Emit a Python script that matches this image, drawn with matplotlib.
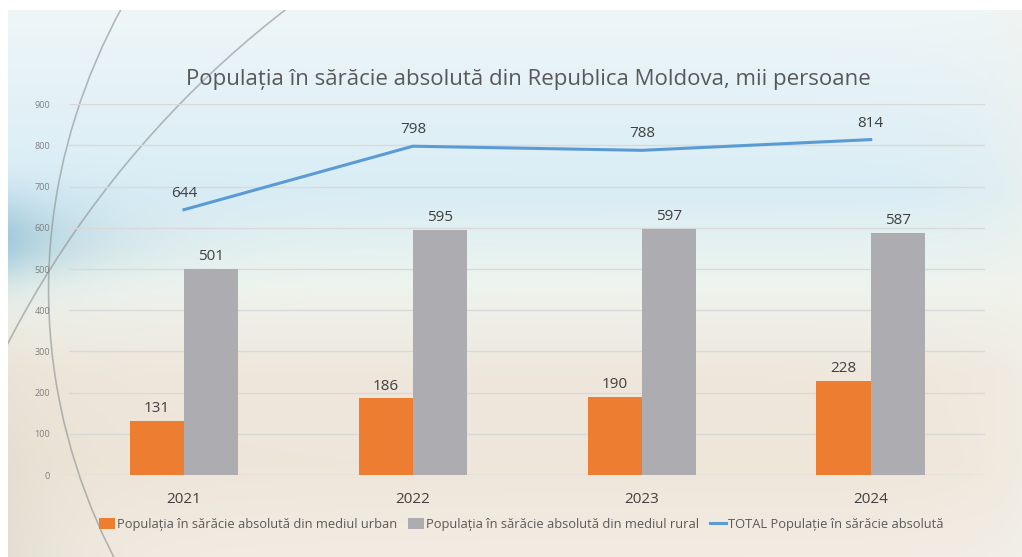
import matplotlib
import matplotlib.pyplot as plt
import numpy as np
from matplotlib.patches import Arc
from matplotlib.colors import LinearSegmentedColormap

matplotlib.use("Agg")

YEARS = ["2021", "2022", "2023", "2024"]
URBAN = [131, 186, 190, 228]
RURAL = [501, 595, 597, 587]
TOTAL = [644, 798, 788, 814]

TITLE = "Populația în sărăcie absolută din Republica Moldova, mii persoane"
LBL_URBAN = "Populația în sărăcie absolută din mediul urban"
LBL_RURAL = "Populația în sărăcie absolută din mediul rural"
LBL_TOTAL = "TOTAL Populație în sărăcie absolută"

ORANGE = "#ED7D31"
GREY = "#ADADB1"
BLUE = "#5B9BD5"
TEXT = "#404040"
TICK = "#7f7f7f"

plt.rcParams["font.family"] = ["Open Sans", "DejaVu Sans"]

fig = plt.figure(figsize=(10.22, 5.57), dpi=100, facecolor="white")

# soft photo-like backdrop
bg = fig.add_axes([8 / 1022, 0, 1 - 8 / 1022, 1 - 10 / 557], zorder=0)
bg.set_axis_off()
sky = LinearSegmentedColormap.from_list(
    "sky", ["#eef6f8", "#e3f1f7", "#d9edf5", "#eef4ee", "#efe7dc", "#efe6da", "#f2ece3"])
h, w = 200, 300
yy = np.linspace(0, 1, h)[:, None]
xx = np.linspace(0, 1, w)[None, :]
vert = sky(np.repeat(yy, w, axis=1))[..., :3]
blue_band = np.exp(-((yy - 0.42) / 0.08) ** 2) * np.exp(-xx / 0.08)
vert = vert * (1 - 0.45 * blue_band[..., None]) + np.array([0.35, 0.62, 0.75]) * 0.45 * blue_band[..., None]
green = np.clip(yy - 0.5, 0, 1) * np.exp(-xx / 0.07)
vert = vert * (1 - 0.5 * green[..., None]) + np.array([0.72, 0.72, 0.62]) * 0.5 * green[..., None]
right = np.exp(-((1 - xx) / 0.05)) * np.ones_like(yy)
vert = vert * (1 - 0.5 * right[..., None]) + np.array([0.95, 0.95, 0.92]) * 0.5 * right[..., None]
bg.imshow(np.clip(vert, 0, 1), aspect="auto", extent=(0, 1, 0, 1))
bg.set_xlim(0, 1)
bg.set_ylim(0, 1)
bg.add_patch(Arc((0.89, 0.488), 1.70, 2.56, theta1=130, theta2=230,
                 color="#8a8f8f", lw=1.2, alpha=0.6))
bg.add_patch(Arc((0.875, -0.444), 1.968, 3.65, theta1=95, theta2=170,
                 color="#8a8f8f", lw=1.2, alpha=0.6))

ax = fig.add_axes([0.068, 0.147, 0.896, 0.666], zorder=1)
ax.patch.set_alpha(0)

x = np.arange(len(YEARS))
bw = 0.237
ax.bar(x - bw / 2, URBAN, bw, color=ORANGE, label=LBL_URBAN, zorder=3)
ax.bar(x + bw / 2, RURAL, bw, color=GREY, label=LBL_RURAL, zorder=3)
ax.plot(x, TOTAL, color=BLUE, lw=2.2, label=LBL_TOTAL, zorder=4)

for xi, v in zip(x, URBAN):
    ax.text(xi - bw / 2, v + 12, str(v), ha="center", va="bottom", fontsize=11, color=TEXT)
for xi, v in zip(x, RURAL):
    ax.text(xi + bw / 2, v + 12, str(v), ha="center", va="bottom", fontsize=11, color=TEXT)
for xi, v in zip(x, TOTAL):
    ax.text(xi, v + 22, str(v), ha="center", va="bottom", fontsize=11, color=TEXT)

ax.set_xlim(-0.5, 3.5)
ax.set_ylim(0, 900)
ax.set_yticks(range(0, 901, 100))
ax.set_xticks(x)
ax.set_xticklabels(YEARS)
ax.tick_params(axis="y", labelsize=6.5, labelcolor=TICK, length=0, pad=14)
ax.tick_params(axis="x", labelsize=11, labelcolor=TEXT, length=0, pad=12)
ax.grid(axis="y", color="#d9d9d9", lw=1, zorder=0)
for s in ax.spines.values():
    s.set_visible(False)
ax.axhline(0, color="#d9d9d9", lw=1, zorder=2)

fig.text(0.517, 0.858, TITLE, ha="center", va="center", fontsize=16, color="#595959")

handles, labels = ax.get_legend_handles_labels()
order = [1, 2, 0]
fig.legend([handles[i] for i in order], [labels[i] for i in order],
           loc="center", bbox_to_anchor=(0.51, 0.059), ncol=3, frameon=False,
           fontsize=9.3, labelcolor="#595959", handlelength=1.2, handleheight=1.0,
           handletextpad=0.15, columnspacing=0.9)

fig.savefig("out.png", dpi=100, facecolor="white")
